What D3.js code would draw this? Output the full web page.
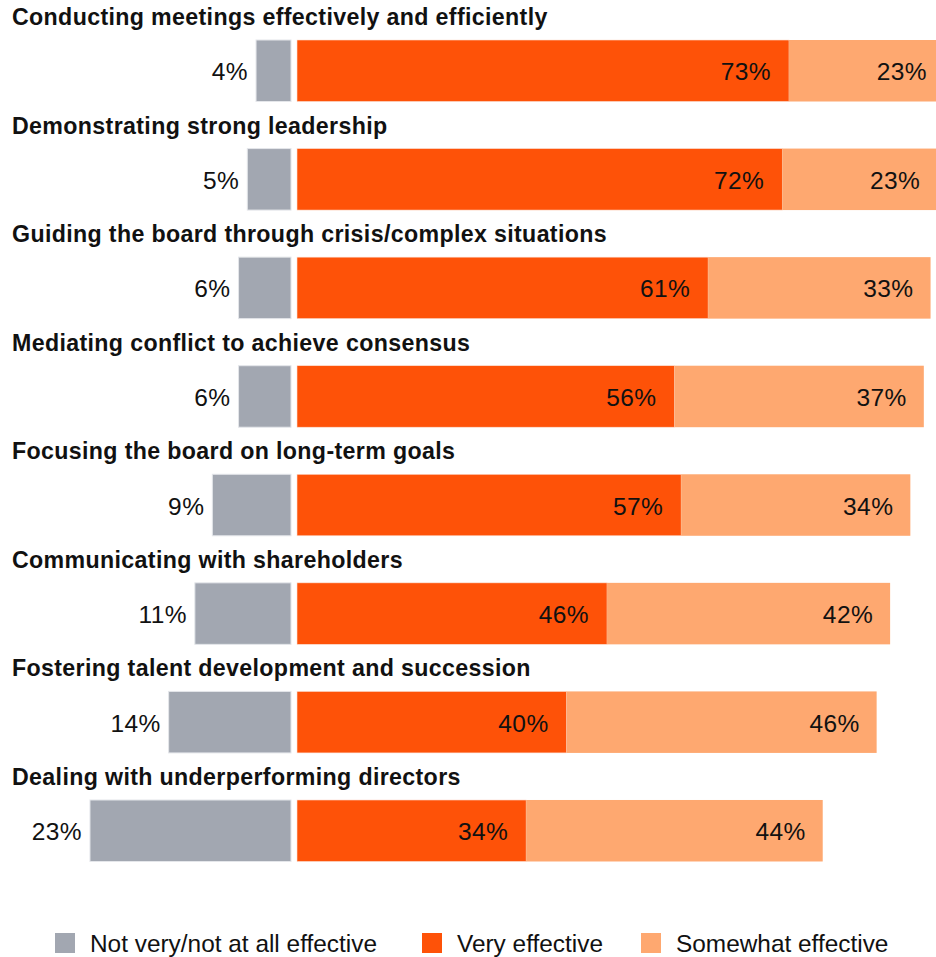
<!DOCTYPE html>
<html><head><meta charset="utf-8">
<script src="https://cdn.jsdelivr.net/npm/d3@7"></script>
<style>body{margin:0;background:#fff}svg{display:block;font-family:"Liberation Sans",Arial,Helvetica,sans-serif}</style>
</head><body><svg id="c" width="936" height="957"></svg>
<script>
const categories = [
  "Conducting meetings effectively and efficiently",
  "Demonstrating strong leadership",
  "Guiding the board through crisis/complex situations",
  "Mediating conflict to achieve consensus",
  "Focusing the board on long-term goals",
  "Communicating with shareholders",
  "Fostering talent development and succession",
  "Dealing with underperforming directors"
];
const notEffective = [4, 5, 6, 6, 9, 11, 14, 23];
const veryEffective = [73, 72, 61, 56, 57, 46, 40, 34];
const somewhatEffective = [23, 23, 33, 37, 34, 42, 46, 44];
const seriesNames = ["Not very/not at all effective", "Very effective", "Somewhat effective"];
const colors = ["#a2a7b1", "#fe5208", "#fea870"];

const svg = d3.select("#c");
const step = 108.57, barH = 61.5, top0 = 40;
const y = d3.scaleLinear().domain([0, 1]).range([top0, top0 + step]);
const xR = d3.scaleLinear().domain([0, 100]).range([297, 297 + 674]);
const xL = d3.scaleLinear().domain([0, 100]).range([291, 291 - 874]);

const rows = categories.map((c, i) => ({c, i, n: notEffective[i], v: veryEffective[i], s: somewhatEffective[i]}));
const g = svg.selectAll("g.row").data(rows).join("g").attr("class", "row");

g.append("text").attr("x", 12).attr("y", d => y(d.i) - 15)
  .attr("font-size", 23.2).attr("font-weight", "bold").attr("letter-spacing", 0.35)
  .attr("fill", "#111").text(d => d.c);

g.append("rect").attr("x", d => xL(d.n)).attr("y", d => y(d.i))
  .attr("width", d => xL(0) - xL(d.n)).attr("height", barH)
  .attr("fill", colors[0]).attr("stroke", "#e4e6ea").attr("stroke-width", 1);
g.append("rect").attr("x", xR(0)).attr("y", d => y(d.i))
  .attr("width", d => xR(d.v) - xR(0)).attr("height", barH)
  .attr("fill", colors[1]).attr("stroke", "#fbe0d4").attr("stroke-width", 0.6);
g.append("rect").attr("x", d => xR(d.v)).attr("y", d => y(d.i))
  .attr("width", d => xR(d.v + d.s) - xR(d.v)).attr("height", barH)
  .attr("fill", colors[2]);

const lab = (sel) => sel.attr("font-size", 24.5).attr("letter-spacing", 0.4).attr("fill", "#111").attr("dominant-baseline", "central");
g.append("text").call(lab).attr("text-anchor", "end")
  .attr("x", d => xL(d.n) - 8).attr("y", d => y(d.i) + barH/2 + 1).text(d => d.n + "%");
g.append("text").call(lab).attr("text-anchor", "end")
  .attr("x", d => xR(d.v) - 18).attr("y", d => y(d.i) + barH/2 + 1).text(d => d.v + "%");
g.append("text").call(lab).attr("text-anchor", "end")
  .attr("x", d => xR(d.v + d.s) - 17).attr("y", d => y(d.i) + barH/2 + 1).text(d => d.s + "%");

const legendX = [55, 422, 641];
const lg = svg.selectAll("g.leg").data(seriesNames).join("g").attr("class", "leg")
  .attr("transform", (d, i) => `translate(${legendX[i]},933)`);
lg.append("rect").attr("width", 20).attr("height", 20).attr("fill", (d, i) => colors[i]);
lg.append("text").attr("x", 35).attr("y", 10).attr("dominant-baseline", "central")
  .attr("font-size", 24.4).attr("fill", "#111").text(d => d);
</script></body></html>
